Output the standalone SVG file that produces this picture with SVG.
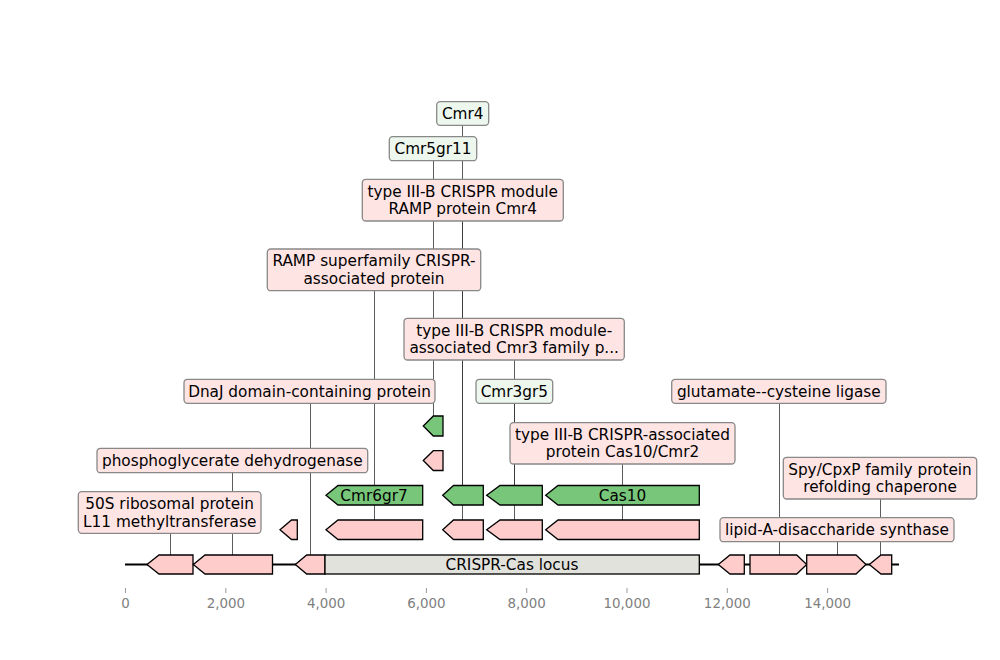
<svg xmlns="http://www.w3.org/2000/svg" width="1000" height="660" viewBox="0 0 1000 660">
<style>
text{font-family:"DejaVu Sans","Liberation Sans",sans-serif;}
.lbl{font-size:15.3px;fill:#000;text-anchor:middle;}
.tick{font-size:13.4px;fill:#808080;text-anchor:middle;}
.pk{fill:#ffcccc;stroke:#000;stroke-width:1.3;stroke-linejoin:miter;}
.gr{fill:#78c679;stroke:#000;stroke-width:1.3;}
.loc{fill:#e2e2dd;stroke:#000;stroke-width:1.3;}
.bp{fill:#ffe4e4;stroke:#888;stroke-width:1.3;}
.bg{fill:#eef7ee;stroke:#888;stroke-width:1.3;}
.ld{stroke:#333;stroke-width:0.8;fill:none;}
</style>
<rect width="1000" height="660" fill="#fff"/>
<g id="axis">
<g stroke="#808080" stroke-width="0.8">
<line x1="125.5" y1="588" x2="125.5" y2="593"/>
<line x1="225.8" y1="588" x2="225.8" y2="593"/>
<line x1="326.1" y1="588" x2="326.1" y2="593"/>
<line x1="426.4" y1="588" x2="426.4" y2="593"/>
<line x1="526.7" y1="588" x2="526.7" y2="593"/>
<line x1="627" y1="588" x2="627" y2="593"/>
<line x1="727.3" y1="588" x2="727.3" y2="593"/>
<line x1="827.6" y1="588" x2="827.6" y2="593"/>
</g>
<text class="tick" x="125.5" y="608">0</text>
<text class="tick" x="225.8" y="608">2,000</text>
<text class="tick" x="326.1" y="608">4,000</text>
<text class="tick" x="426.4" y="608">6,000</text>
<text class="tick" x="526.7" y="608">8,000</text>
<text class="tick" x="627" y="608">10,000</text>
<text class="tick" x="727.3" y="608">12,000</text>
<text class="tick" x="827.6" y="608">14,000</text>
</g>
<g id="connectors">
<line class="ld" x1="170.5" y1="533" x2="170.5" y2="555"/>
<line class="ld" x1="232.5" y1="472" x2="232.5" y2="555"/>
<line class="ld" x1="310.5" y1="403" x2="310.5" y2="555"/>
<line class="ld" x1="374.5" y1="290" x2="374.5" y2="520"/>
<line class="ld" x1="433.5" y1="160" x2="433.5" y2="416"/>
<line class="ld" x1="462.5" y1="125" x2="462.5" y2="485.5"/>
<line class="ld" x1="462.5" y1="221" x2="462.5" y2="520"/>
<line class="ld" x1="514.5" y1="360" x2="514.5" y2="520"/>
<line class="ld" x1="514.5" y1="403" x2="514.5" y2="485.5"/>
<line class="ld" x1="622.5" y1="464" x2="622.5" y2="520"/>
<line class="ld" x1="779.5" y1="403" x2="779.5" y2="555"/>
<line class="ld" x1="837.5" y1="541" x2="837.5" y2="555"/>
<line class="ld" x1="880.5" y1="499" x2="880.5" y2="555"/>
</g>
<g id="backbone">
<line x1="125" y1="564.5" x2="899" y2="564.5" stroke="#000" stroke-width="2"/>
</g>
<g id="f1"><polygon class="pk" points="147,564.5 159,555 193,555 193,574 159,574"/></g>
<g id="f2"><polygon class="pk" points="193.3,564.5 205,555 272.5,555 272.5,574 205,574"/></g>
<g id="f3"><polygon class="pk" points="295.3,564.5 306.7,555 325,555 325,574 306.7,574"/></g>
<g id="locus"><rect class="loc" x="325" y="555" width="374.3" height="19"/><text class="lbl" x="512" y="570">CRISPR-Cas locus</text></g>
<g id="f5"><polygon class="pk" points="718.3,564.5 730,555 744.3,555 744.3,574 730,574"/></g>
<g id="f6"><polygon class="pk" points="750,555 796.7,555 806.7,564.5 796.7,574 750,574"/></g>
<g id="f7"><polygon class="pk" points="806.7,555 856,555 866,564.5 856,574 806.7,574"/></g>
<g id="f8"><polygon class="pk" points="869.3,564.5 881,555 891.7,555 891.7,574 881,574"/></g>
<g id="p1"><polygon class="pk" points="280,529.8 291.5,520 297.3,520 297.3,539.5 291.5,539.5"/></g>
<g id="p2"><polygon class="pk" points="326,529.8 338,520 422.7,520 422.7,539.5 338,539.5"/></g>
<g id="p3"><polygon class="pk" points="442.7,529.8 453.5,520 483.3,520 483.3,539.5 453.5,539.5"/></g>
<g id="p4"><polygon class="pk" points="486.7,529.8 500,520 542.3,520 542.3,539.5 500,539.5"/></g>
<g id="p5"><polygon class="pk" points="545.7,529.8 558,520 699.3,520 699.3,539.5 558,539.5"/></g>
<g id="g1"><polygon class="gr" points="326,495.3 338,485.5 422.7,485.5 422.7,505 338,505 "/><text class="lbl" x="374" y="500.8">Cmr6gr7</text></g>
<g id="g2"><polygon class="gr" points="442.7,495.3 453.5,485.5 483.3,485.5 483.3,505 453.5,505"/></g>
<g id="g3"><polygon class="gr" points="486.7,495.3 500,485.5 542.3,485.5 542.3,505 500,505"/></g>
<g id="g4"><polygon class="gr" points="545.7,495.3 558,485.5 699.3,485.5 699.3,505 558,505"/><text class="lbl" x="622.5" y="500.8">Cas10</text></g>
<g id="p6"><polygon class="pk" points="423.3,460.5 433.3,450.7 443,450.7 443,470.5 433.3,470.5"/></g>
<g id="g5"><polygon class="gr" points="423.3,426 433.3,416 443,416 443,436 433.3,436"/></g>
<g id="l-cmr4"><rect class="bg" x="436.7" y="101.7" width="52" height="23.6" rx="3.5"/><text class="lbl" x="462.7" y="119">Cmr4</text></g>
<g id="l-cmr5gr11"><rect class="bg" x="389.3" y="136.7" width="87.4" height="24" rx="3.5"/><text class="lbl" x="433" y="154.2">Cmr5gr11</text></g>
<g id="l-ramp-cmr4"><rect class="bp" x="362.3" y="179.3" width="201" height="41.7" rx="3.5"/><text class="lbl" x="462.8" y="196.6">type III-B CRISPR module</text><text class="lbl" x="462.8" y="214.2">RAMP protein Cmr4</text></g>
<g id="l-ramp-super"><rect class="bp" x="267.3" y="249" width="213.4" height="41.7" rx="3.5"/><text class="lbl" x="374" y="266.3">RAMP superfamily CRISPR-</text><text class="lbl" x="374" y="283.9">associated protein</text></g>
<g id="l-cmr3"><rect class="bp" x="404" y="318.3" width="220.3" height="41.7" rx="3.5"/><text class="lbl" x="514.2" y="335.6">type III-B CRISPR module-</text><text class="lbl" x="514.2" y="353.2">associated Cmr3 family p...</text></g>
<g id="l-dnaj"><rect class="bp" x="184" y="379.3" width="251" height="24" rx="3.5"/><text class="lbl" x="309.5" y="396.8">DnaJ domain-containing protein</text></g>
<g id="l-cmr3gr5"><rect class="bg" x="476" y="379.3" width="76.7" height="24" rx="3.5"/><text class="lbl" x="514.3" y="396.8">Cmr3gr5</text></g>
<g id="l-glu"><rect class="bp" x="671.7" y="379.3" width="214.3" height="24" rx="3.5"/><text class="lbl" x="778.8" y="396.8">glutamate--cysteine ligase</text></g>
<g id="l-cas10"><rect class="bp" x="510" y="422.7" width="225" height="41.3" rx="3.5"/><text class="lbl" x="622.5" y="439.8">type III-B CRISPR-associated</text><text class="lbl" x="622.5" y="457.4">protein Cas10/Cmr2</text></g>
<g id="l-pgdh"><rect class="bp" x="97" y="448.3" width="270.7" height="24.4" rx="3.5"/><text class="lbl" x="232.3" y="466">phosphoglycerate dehydrogenase</text></g>
<g id="l-spy"><rect class="bp" x="783.3" y="457.3" width="193.4" height="41.7" rx="3.5"/><text class="lbl" x="880" y="474.6">Spy/CpxP family protein</text><text class="lbl" x="880" y="492.2">refolding chaperone</text></g>
<g id="l-50s"><rect class="bp" x="78.3" y="491.7" width="182.7" height="41.6" rx="3.5"/><text class="lbl" x="169.7" y="509">50S ribosomal protein</text><text class="lbl" x="169.7" y="526.6">L11 methyltransferase</text></g>
<g id="l-lipid"><rect class="bp" x="720" y="517.7" width="234" height="24" rx="3.5"/><text class="lbl" x="837" y="535.2">lipid-A-disaccharide synthase</text></g>
</svg>
